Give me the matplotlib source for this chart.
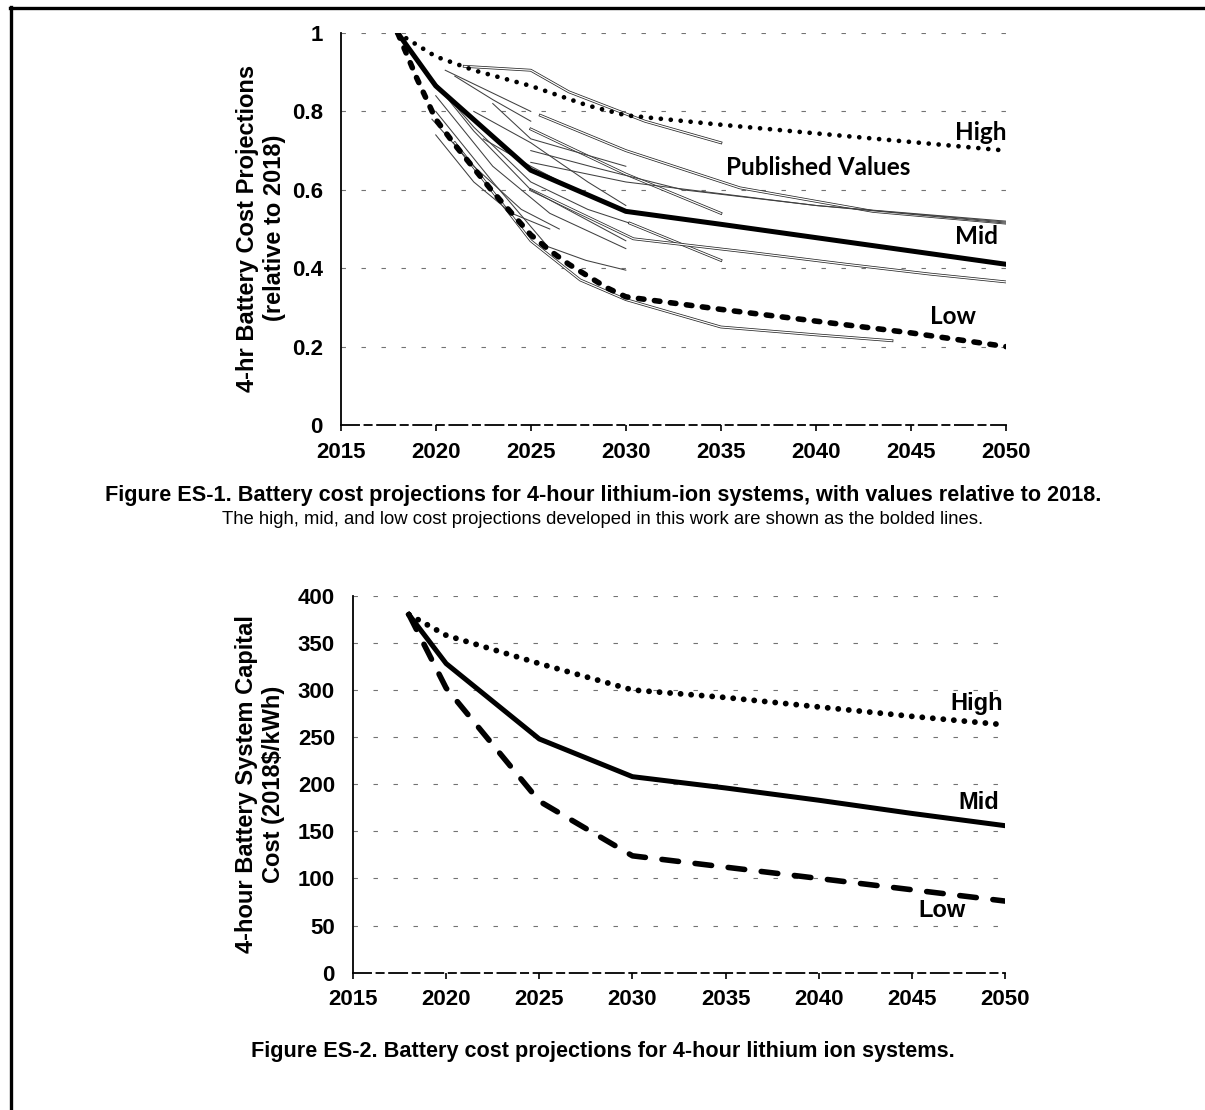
import matplotlib
matplotlib.use('Agg')
import matplotlib.pyplot as plt
from matplotlib.lines import Line2D


# Figure ES-1: relative battery cost projections
years_high_rel = [2018, 2020, 2022, 2025, 2028, 2030, 2035, 2040, 2045, 2050]
high_rel = [1.0, 0.94, 0.905, 0.865, 0.815, 0.79, 0.766, 0.744, 0.722, 0.70]

years_mid_rel = [2018, 2020, 2025, 2030, 2035, 2040, 2045, 2050]
mid_rel = [1.0, 0.865, 0.65, 0.545, 0.512, 0.478, 0.444, 0.41]

years_low_rel = [2018, 2019, 2020, 2021, 2022, 2023, 2024, 2025, 2026, 2027, 2028, 2029,
                 2030, 2035, 2040, 2045, 2050]
low_rel = [1.0, 0.885, 0.78, 0.715, 0.655, 0.595, 0.54, 0.485, 0.445, 0.41, 0.38, 0.35,
           0.327, 0.295, 0.265, 0.235, 0.20]

# published projections (thin lines)
published_years = [
    [2021.5, 2025, 2027, 2031, 2035],
    [2020.5, 2025],
    [2021, 2023, 2025],
    [2025.5, 2030, 2036, 2043, 2050],
    [2025, 2030, 2035],
    [2025, 2028.5, 2033, 2040, 2050],
    [2019.5, 2022, 2025, 2028, 2030.2],
    [2030.2, 2035],
    [2025, 2030.4, 2036.6, 2041.6, 2046, 2050],
    [2020, 2023, 2025.9, 2027.9, 2030],
    [2021, 2025, 2027.6, 2030, 2035, 2040, 2044],
    [2019, 2022, 2025, 2030],
    [2020, 2023, 2026, 2030],
    [2022, 2025, 2028, 2030],
    [2023, 2025, 2030],
    [2020, 2022, 2024, 2026],
    [2025, 2030, 2040, 2050],
    [2022.5, 2025, 2027],
    [2019.8, 2022, 2024.5, 2026.5],
]
published_vals = [
    [0.915, 0.905, 0.85, 0.775, 0.72],
    [0.905, 0.80],
    [0.89, 0.83, 0.775],
    [0.79, 0.70, 0.605, 0.545, 0.515],
    [0.755, 0.64, 0.54],
    [0.70, 0.655, 0.60, 0.56, 0.52],
    [0.90, 0.76, 0.62, 0.55, 0.515],
    [0.515, 0.42],
    [0.60, 0.475, 0.44, 0.41, 0.385, 0.365],
    [0.80, 0.62, 0.455, 0.42, 0.395],
    [0.72, 0.47, 0.37, 0.32, 0.25, 0.23, 0.215],
    [0.93, 0.75, 0.60, 0.47],
    [0.84, 0.66, 0.54, 0.45],
    [0.80, 0.72, 0.62, 0.56],
    [0.82, 0.73, 0.66],
    [0.74, 0.62, 0.54, 0.50],
    [0.67, 0.62, 0.56, 0.515],
    [0.73, 0.66, 0.61],
    [0.78, 0.66, 0.55, 0.50],
]
hollow = [0, 3, 4, 7, 8, 10]

# Figure ES-2: capital cost, 2018$/kWh
years_cost = [2018, 2020, 2025, 2030, 2035, 2040, 2045, 2050]
high_cost = [380, 358, 328, 300, 292, 282, 272, 263]
mid_cost = [380, 328, 248, 208, 196, 183, 169, 156]
low_cost = [380, 302, 182, 124, 112, 100, 88, 76]

year_ticks = [2015, 2020, 2025, 2030, 2035, 2040, 2045, 2050]
rel_ticks = [0, 0.2, 0.4, 0.6, 0.8, 1.0]
rel_labels = ['0', '0.2', '0.4', '0.6', '0.8', '1']
cost_ticks = [0, 50, 100, 150, 200, 250, 300, 350, 400]

W, H = 1205, 1110
ARIAL = 'Liberation Sans'
CALIBRI = 'Lato'


def style_axes(ax):
    for s in ['top', 'right']:
        ax.spines[s].set_visible(False)
    ax.spines['left'].set_linewidth(1.3)
    ax.spines['bottom'].set_linewidth(1.3)
    ax.spines['bottom'].set_linestyle((0, (10, 3, 4, 3)))
    ax.set_xlim(2015, 2050)
    ax.set_xticks(year_ticks)
    ax.tick_params(axis='x', direction='out', length=4, width=1.2, pad=8)
    ax.tick_params(axis='y', length=0, pad=13)
    for lab in ax.get_xticklabels() + ax.get_yticklabels():
        lab.set_fontfamily(ARIAL)
        lab.set_fontweight('bold')
        lab.set_fontsize(16)
    ax.grid(axis='y', color='0.45', lw=0.8, linestyle=(0, (4, 14)))
    ax.set_axisbelow(True)


fig = plt.figure(figsize=(W / 100, H / 100), dpi=100)

# ---- top chart
ax1 = fig.add_axes([340.7 / W, 1 - 425 / H, (1006 - 340.7) / W, 392 / H])
ax1.set_ylim(0, 1)
ax1.set_yticks(rel_ticks)
ax1.set_yticklabels(rel_labels)
style_axes(ax1)

for i, (xs, ys) in enumerate(zip(published_years, published_vals)):
    if i in hollow:
        ax1.plot(xs, ys, color='0.15', lw=2.0, zorder=2)
        ax1.plot(xs, ys, color='white', lw=0.9, zorder=2)
    else:
        ax1.plot(xs, ys, color='0.25', lw=0.75, zorder=2)

ax1.plot(years_high_rel, high_rel, color='black', lw=3.4,
         linestyle=(0, (0.01, 2.1)), dash_capstyle='round', zorder=4)
ax1.plot(years_mid_rel, mid_rel, color='black', lw=3.6, zorder=4)
ax1.plot(years_low_rel, low_rel, color='black', lw=4.0,
         linestyle=(0, (1.0, 1.9)), dash_capstyle='round', zorder=4)

ax1.text(2050.05, 0.747, 'High', ha='right', va='center', fontsize=17.5,
         fontfamily=CALIBRI, fontweight='bold')
ax1.text(2040.1, 0.656, 'Published Values', ha='center', va='center', fontsize=17.5,
         fontfamily=CALIBRI, fontweight='bold')
ax1.text(2049.6, 0.48, 'Mid', ha='right', va='center', fontsize=17.5,
         fontfamily=CALIBRI, fontweight='bold')
ax1.text(2048.4, 0.276, 'Low', ha='right', va='center', fontsize=17.5,
         fontfamily=CALIBRI, fontweight='bold')

fig.text(261 / W, 1 - 228 / H, '4-hr Battery Cost Projections\n(relative to 2018)',
         rotation=90, ha='center', va='center', multialignment='center',
         fontsize=17, fontweight='bold', fontfamily=ARIAL, linespacing=1.22)

fig.text(603 / W, 1 - 496 / H,
         'Figure ES-1. Battery cost projections for 4-hour lithium-ion systems, '
         'with values relative to 2018.',
         ha='center', va='center', fontsize=15.6, fontweight='bold', fontfamily=ARIAL)
fig.text(603 / W, 1 - 519 / H,
         'The high, mid, and low cost projections developed in this work are shown '
         'as the bolded lines.',
         ha='center', va='center', fontsize=13.3, fontfamily=ARIAL)

# ---- bottom chart
ax2 = fig.add_axes([353 / W, 1 - 972.7 / H, (1005 - 353) / W, 377 / H])
ax2.set_ylim(0, 400)
ax2.set_yticks(cost_ticks)
style_axes(ax2)

ax2.plot(years_cost, high_cost, color='black', lw=4.2,
         linestyle=(0, (0.01, 1.8)), dash_capstyle='round', zorder=4)
ax2.plot(years_cost, mid_cost, color='black', lw=3.6, zorder=4)
ax2.plot(years_cost, low_cost, color='black', lw=4.0,
         linestyle=(0, (3.0, 3.0)), dash_capstyle='round', zorder=4)

ax2.text(2049.9, 286, 'High', ha='right', va='center', fontsize=17,
         fontfamily=ARIAL, fontweight='bold')
ax2.text(2049.7, 181, 'Mid', ha='right', va='center', fontsize=17,
         fontfamily=ARIAL, fontweight='bold')
ax2.text(2047.9, 66.5, 'Low', ha='right', va='center', fontsize=17,
         fontfamily=ARIAL, fontweight='bold')

fig.text(260 / W, 1 - 784 / H, '4-hour Battery System Capital\nCost (2018$/kWh)',
         rotation=90, ha='center', va='center', multialignment='center',
         fontsize=17, fontweight='bold', fontfamily=ARIAL, linespacing=1.22)

fig.text(603 / W, 1 - 1052 / H,
         'Figure ES-2. Battery cost projections for 4-hour lithium ion systems.',
         ha='center', va='center', fontsize=15.6, fontweight='bold', fontfamily=ARIAL)

# page frame (top and left edges of the scanned box)
fig.add_artist(Line2D([10 / W, 1.0], [1 - 8 / H, 1 - 8 / H], transform=fig.transFigure,
                      color='black', lw=2.4))
fig.add_artist(Line2D([10.5 / W, 10.5 / W], [0.0, 1 - 7 / H], transform=fig.transFigure,
                      color='black', lw=2.4))

fig.savefig('out.png', dpi=100)
